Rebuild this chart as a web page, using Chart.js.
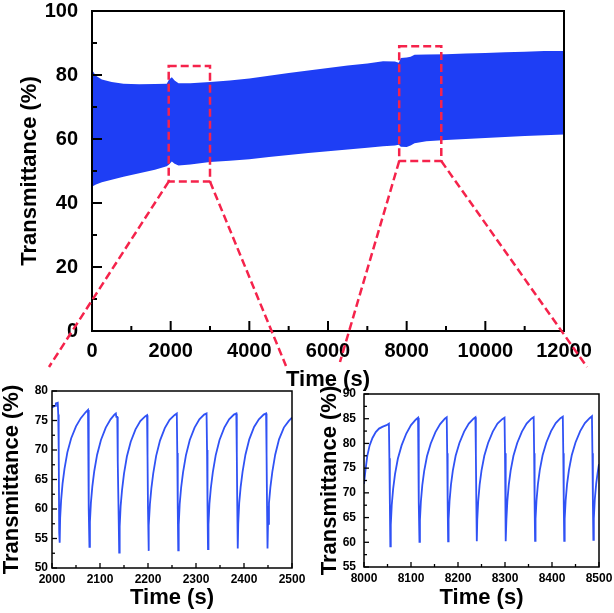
<!DOCTYPE html>
<html>
<head>
<meta charset="utf-8">
<script src="https://cdn.jsdelivr.net/npm/chart.js@4.4.1/dist/chart.umd.min.js"></script>
<style>
body { margin: 0; background: #fff; }
#wrap { position: relative; width: 614px; height: 613px; overflow: hidden; }
canvas { position: absolute; }
#main { left: 0; top: 0; z-index: 2; pointer-events: none; }
#in1 { left: 0; top: 365px; }
#in2 { left: 307px; top: 365px; }
</style>
</head>
<body>
<div id="wrap">
  <canvas id="in1" width="307" height="248"></canvas>
  <canvas id="in2" width="307" height="248"></canvas>
  <canvas id="main" width="614" height="400"></canvas>
</div>
<script>
// main plot: envelope of the fast switching signal (upper / lower edge of the band)
var mainTime  = [0, 30, 100, 250, 500, 800, 1200, 1600, 1900, 1960, 2030, 2100, 2200, 2500, 3000, 3500, 4000, 4500, 5000, 5500, 6000, 6500, 7000, 7400, 7700, 7800, 7850, 8000, 8100, 8200, 8500, 9000, 9500, 10000, 10500, 11000, 11500, 12000];
var mainUpper = [81.7, 81.0, 79.8, 78.6, 77.8, 77.3, 77.1, 77.2, 77.3, 78.6, 79.3, 78.3, 77.4, 77.4, 77.8, 78.3, 78.9, 79.8, 80.6, 81.4, 82.2, 83.0, 83.6, 84.3, 84.2, 83.8, 85.3, 85.5, 85.7, 86.3, 86.4, 86.5, 86.7, 86.9, 87.1, 87.3, 87.5, 87.5];
var mainLower = [45.0, 45.3, 45.8, 46.5, 47.3, 48.2, 49.3, 50.4, 51.5, 52.0, 53.0, 52.3, 51.7, 52.0, 52.8, 53.2, 53.7, 54.4, 55.0, 55.6, 56.2, 56.7, 57.3, 57.7, 58.0, 58.2, 57.6, 57.5, 58.0, 58.7, 59.3, 59.7, 60.0, 60.3, 60.6, 60.9, 61.2, 61.4];

// zoom 1 : 2000 - 2500 s
var in1Time = [2000,2004,2007,2008,2012,2013,2014,2015,2016,2017,2019,2022,2026,2032,2040,2050,2060,2070,2075,
  2076,2077,2078,2079,2081,2084,2088,2094,2102,2112,2122,2130,2133,2134,2136,
  2137,2139,2140,2141,2143,2146,2150,2156,2164,2174,2184,2194,2198,
  2199,2200,2201,2202,2204,2207,2211,2217,2225,2235,2245,2255,2260,
  2261,2262,2263,2264,2266,2269,2273,2279,2287,2297,2307,2317,2322,
  2323,2324,2325,2326,2328,2331,2335,2341,2349,2359,2369,2379,2384,
  2385,2386,2387,2388,2390,2393,2397,2403,2411,2421,2431,2441,2446,
  2447,2448,2449,2450,2452,2455,2459,2465,2473,2483,2493,2500];
var in1Value = [77.2,77.4,77.5,77.9,78.0,76.0,70.0,56.0,54.3,58.5,61.5,64.3,66.8,69.6,72.0,74.0,75.4,76.4,76.8,
  69.5,60.0,53.6,57.8,61.0,63.8,66.4,69.2,71.7,73.8,75.2,76.0,76.2,75.6,75.6,
  68.0,58.0,52.6,57.0,60.5,63.3,66.0,68.9,71.4,73.5,74.9,75.7,75.9,
  69.0,60.0,52.9,57.2,60.8,63.5,66.1,69.0,71.6,73.7,75.1,75.9,76.2,
  69.5,60.0,53.0,57.3,60.8,63.6,66.2,69.1,71.7,73.8,75.2,76.0,76.2,
  70.0,60.5,53.2,57.4,60.9,63.6,66.2,69.1,71.7,73.8,75.2,76.0,76.2,
  69.5,60.5,53.3,57.5,61.0,63.7,66.3,69.2,71.8,73.9,75.2,76.0,76.2,
  69.5,60.5,53.3,57.5,61.0,63.7,66.3,69.2,71.8,73.8,74.9,75.5];

// zoom 2 : 8000 - 8500 s
var in2Time = [8000,8003,8007,8012,8018,8025,8032,8040,8048,8053,8054,8055,8056,
  8057,8059,8062,8066,8072,8080,8090,8100,8110,8115,
  8116,8117,8118,8119,8121,8124,8128,8134,8142,8152,8162,8172,8176,
  8177,8178,8179,8180,8182,8185,8189,8195,8203,8213,8223,8233,8237,
  8238,8239,8240,8241,8243,8246,8250,8256,8264,8274,8284,8294,8299,
  8300,8301,8302,8303,8305,8308,8312,8318,8326,8336,8346,8356,8361,
  8362,8363,8364,8365,8367,8370,8374,8380,8388,8398,8408,8418,8423,
  8424,8425,8426,8427,8429,8432,8436,8442,8450,8460,8470,8480,8485,
  8486,8487,8488,8489,8491,8494,8497,8500];
var in2Value = [71.8,74.5,77.5,79.6,81.1,82.3,83.0,83.4,83.7,84.0,77.0,68.0,59.2,
  63.5,67.5,70.8,73.8,76.9,79.6,82.0,83.7,84.8,85.2,
  78.0,68.0,60.1,64.5,68.2,71.5,74.4,77.4,80.0,82.3,83.9,85.0,85.3,
  78.0,68.0,60.2,64.6,68.3,71.6,74.5,77.5,80.1,82.4,84.0,85.0,85.3,
  78.0,68.0,60.2,64.6,68.3,71.6,74.5,77.5,80.1,82.4,84.0,84.9,85.2,
  78.0,68.0,60.2,64.6,68.3,71.6,74.5,77.5,80.1,82.4,84.0,85.0,85.3,
  78.0,68.0,60.3,64.7,68.4,71.7,74.6,77.6,80.2,82.5,84.1,85.1,85.4,
  78.0,68.0,60.3,64.7,68.4,71.7,74.6,77.6,80.2,82.5,84.1,85.1,85.5,
  78.0,68.0,60.5,64.8,68.6,71.8,74.0,75.8];

// dashed zoom windows drawn on the main plot (data units)
var zoomBoxes = [
  { x0: 1950, x1: 3000, y0: 46.7, y1: 82.8 },
  { x0: 7810, x1: 8880, y0: 53.1, y1: 89.0 }
];
// where the dashed connectors stop (page pixels), one pair per box
var connectorEnds = [[[49, 367], [286, 366]], [[340, 362], [587, 367]]];

var FONT = "'Liberation Sans', Arial, sans-serif";
var BAND = 'rgb(30, 62, 245)';
var TRACE = 'rgb(48, 82, 245)';
var RED = 'rgb(245, 35, 75)';

function pts(xs, ys) {
  return xs.map(function (x, i) { return { x: x, y: ys[i] }; });
}
function plain(v) { return String(v); }

// frame + inward ticks (major at labels, minor half way)
var innerTicks = {
  id: 'innerTicks',
  afterDraw: function (chart, args, o) {
    var ctx = chart.ctx, a = chart.chartArea;
    var sx = chart.scales.x, sy = chart.scales.y;
    ctx.save();
    ctx.strokeStyle = '#000';
    ctx.lineWidth = o.tickWidth;
    function run(scale, fn) {
      var v = scale.ticks.map(function (t) { return t.value; });
      for (var i = 0; i < v.length; i++) {
        fn(scale.getPixelForValue(v[i]), o.major);
        if (i < v.length - 1) fn(scale.getPixelForValue((v[i] + v[i + 1]) / 2), o.minor);
      }
    }
    run(sx, function (p, len) {
      ctx.beginPath(); ctx.moveTo(p, a.bottom); ctx.lineTo(p, a.bottom - len); ctx.stroke();
    });
    run(sy, function (p, len) {
      ctx.beginPath(); ctx.moveTo(a.left, p); ctx.lineTo(a.left + len, p); ctx.stroke();
    });
    ctx.lineWidth = o.frame;
    ctx.strokeRect(a.left, a.top, a.right - a.left, a.bottom - a.top);
    ctx.restore();
  }
};

var zoomMarks = {
  id: 'zoomMarks',
  afterDraw: function (chart) {
    var ctx = chart.ctx, sx = chart.scales.x, sy = chart.scales.y;
    ctx.save();
    ctx.strokeStyle = RED;
    ctx.lineWidth = 2.5;
    ctx.setLineDash([8, 4]);
    zoomBoxes.forEach(function (b, i) {
      var l = sx.getPixelForValue(b.x0), r = sx.getPixelForValue(b.x1);
      var t = sy.getPixelForValue(b.y1), btm = sy.getPixelForValue(b.y0);
      ctx.strokeRect(l, t, r - l, btm - t);
      var ends = connectorEnds[i];
      ctx.beginPath(); ctx.moveTo(l, btm); ctx.lineTo(ends[0][0], ends[0][1]); ctx.stroke();
      ctx.beginPath(); ctx.moveTo(r, btm); ctx.lineTo(ends[1][0], ends[1][1]); ctx.stroke();
    });
    ctx.restore();
  }
};

function axisTitle(text, size, pad) {
  return { display: true, text: text, color: '#000', padding: pad,
    font: { family: FONT, size: size, weight: 'bold', lineHeight: 1 } };
}
// fix the axis box size and drop the label overhang padding, so layout.padding sets the plot area
function fixX(h) {
  return function (s) { s.height = h; s.paddingLeft = 0; s.paddingRight = 0; };
}
function fixY(w) {
  return function (s) { s.width = w; s.paddingTop = 0; s.paddingBottom = 0; };
}

// main chart
new Chart(document.getElementById('main'), {
  type: 'line',
  data: {
    datasets: [
      { data: pts(mainTime, mainLower), borderWidth: 0, pointRadius: 0, fill: false, borderColor: BAND },
      { data: pts(mainTime, mainUpper), borderWidth: 0, pointRadius: 0, fill: '-1', backgroundColor: BAND, borderColor: BAND }
    ]
  },
  options: {
    responsive: false,
    animation: false,
    layout: { padding: { top: 11, right: 50, left: 0, bottom: 0 } },
    plugins: { legend: { display: false }, tooltip: { enabled: false },
      innerTicks: { frame: 2, tickWidth: 2, major: 10, minor: 5 } },
    scales: {
      x: {
        type: 'linear', min: 0, max: 12000,
        grid: { display: false, drawTicks: false }, border: { display: false },
        ticks: { stepSize: 2000, color: '#000', padding: 10, maxRotation: 0, autoSkip: false, callback: plain,
          font: { family: FONT, size: 20, weight: 'bold', lineHeight: 1 } },
        title: axisTitle('Time (s)', 22, { top: 0, bottom: 9 }),
        afterFit: fixX(69)
      },
      y: {
        min: 0, max: 100,
        grid: { display: false, drawTicks: false }, border: { display: false },
        ticks: { stepSize: 20, color: '#000', padding: 14, callback: plain,
          font: { family: FONT, size: 20, weight: 'bold', lineHeight: 1 } },
        title: axisTitle('Transmittance (%)', 22, { top: 19, bottom: 0 }),
        afterFit: fixY(92)
      }
    }
  },
  plugins: [innerTicks, zoomMarks]
});

function inset(id, xs, ys, xr, yr, box) {
  new Chart(document.getElementById(id), {
    type: 'line',
    data: { datasets: [{ data: pts(xs, ys), borderColor: TRACE, borderWidth: 1.8, pointRadius: 0, fill: false }] },
    options: {
      responsive: false,
      animation: false,
      layout: { padding: { top: box.top, right: box.right, left: 0, bottom: 0 } },
      plugins: { legend: { display: false }, tooltip: { enabled: false },
        innerTicks: { frame: 1.5, tickWidth: 1.3, major: 5, minor: 3 } },
      scales: {
        x: {
          type: 'linear', min: xr[0], max: xr[1],
          grid: { display: false, drawTicks: false }, border: { display: false },
          ticks: { stepSize: xr[2], color: '#000', padding: 6, maxRotation: 0, autoSkip: false, callback: plain,
            font: { family: FONT, size: 12, weight: 'bold', lineHeight: 1 } },
          title: axisTitle('Time (s)', 22, { top: 0, bottom: box.xt }),
          afterFit: fixX(box.h)
        },
        y: {
          min: yr[0], max: yr[1],
          grid: { display: false, drawTicks: false }, border: { display: false },
          ticks: { stepSize: yr[2], color: '#000', padding: box.yp, callback: plain,
            font: { family: FONT, size: 12, weight: 'bold', lineHeight: 1 } },
          title: axisTitle('Transmittance (%)', 22, { top: box.yt, bottom: 0 }),
          afterFit: fixY(box.w)
        }
      }
    },
    plugins: [innerTicks]
  });
}

inset('in1', in1Time, in1Value, [2000, 2500, 100], [50, 80, 5],
  { top: 26, right: 15, w: 52, h: 45, xt: 4, yt: 1, yp: 4 });
inset('in2', in2Time, in2Value, [8000, 8500, 100], [55, 90, 5],
  { top: 29, right: 15, w: 57, h: 46, xt: 4, yt: 12, yp: 8 });
</script>
</body>
</html>
